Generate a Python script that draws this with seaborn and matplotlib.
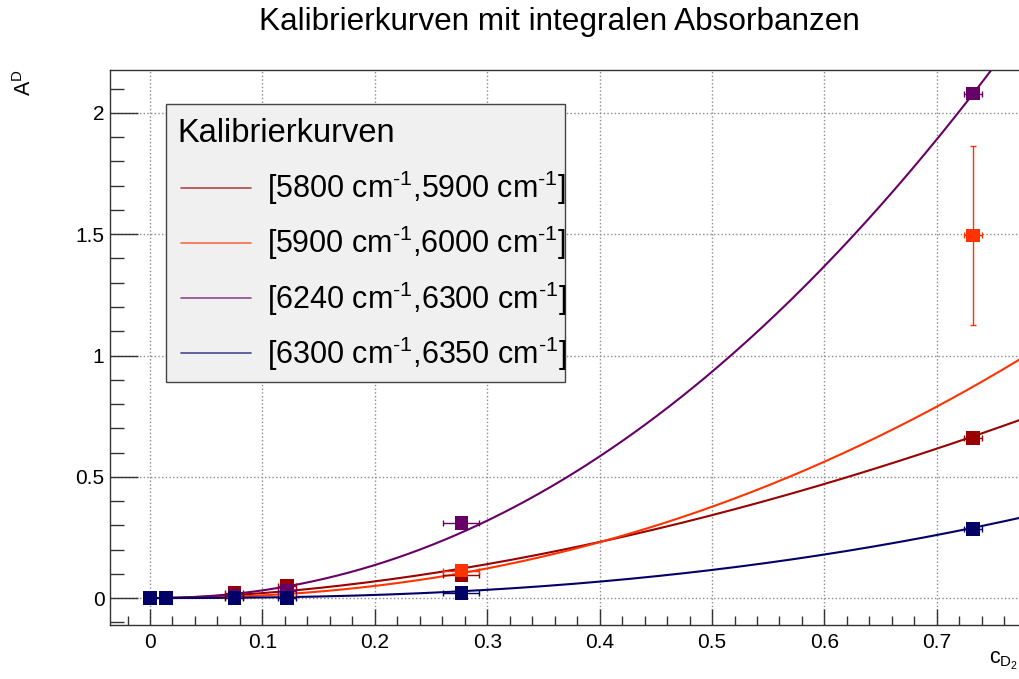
import numpy as np
import pandas as pd
import matplotlib
matplotlib.use("Agg")
import matplotlib.pyplot as plt
import seaborn as sns
from matplotlib.lines import Line2D
from matplotlib.patches import Rectangle
from matplotlib.ticker import MultipleLocator, FuncFormatter

sns.set_theme(style="white")
plt.rcParams["font.family"] = ["Liberation Sans", "DejaVu Sans"]
plt.rcParams["mathtext.fontset"] = "custom"
plt.rcParams["mathtext.rm"] = "Liberation Sans"
plt.rcParams["mathtext.it"] = "Liberation Sans"
plt.rcParams["mathtext.default"] = "regular"
plt.rcParams["text.color"] = "black"
plt.rcParams["xtick.color"] = "black"
plt.rcParams["ytick.color"] = "black"

# ---------------- data ----------------
series_labels = [
    r"[5800 cm$^{\text{-1}}$,5900 cm$^{\text{-1}}$]",
    r"[5900 cm$^{\text{-1}}$,6000 cm$^{\text{-1}}$]",
    r"[6240 cm$^{\text{-1}}$,6300 cm$^{\text{-1}}$]",
    r"[6300 cm$^{\text{-1}}$,6350 cm$^{\text{-1}}$]",
]
series_colors = ["#990000", "#ff3300", "#660066", "#000066"]

conc = [0.0, 0.014, 0.075, 0.122, 0.277, 0.732]
conc_err = [0.0, 0.0, 0.008, 0.008, 0.016, 0.008]

absorb_5800 = [0.0, 0.0, 0.02, 0.05, 0.095, 0.66]
absorb_5900 = [0.0, 0.0, 0.005, 0.01, 0.113, 1.495]
absorb_6240 = [0.0, 0.0, 0.01, 0.03, 0.31, 2.08]
absorb_6300 = [0.0, 0.0, 0.0, 0.0, 0.02, 0.285]

err_5800 = [0.0, 0.0, 0.0, 0.0, 0.0, 0.01]
err_5900 = [0.0, 0.0, 0.0, 0.0, 0.01, 0.37]
err_6240 = [0.0, 0.0, 0.0, 0.0, 0.0, 0.01]
err_6300 = [0.0, 0.0, 0.0, 0.0, 0.0, 0.01]

# power-law fit parameters  A = amp * c^exp
fit_amp = [1.15, 1.73, 4.0, 0.612]
fit_exp = [1.75, 2.2, 2.1, 2.4]

title = "Kalibrierkurven mit integralen Absorbanzen"
legend_title = "Kalibrierkurven"
x_ticks = [0.0, 0.1, 0.2, 0.3, 0.4, 0.5, 0.6, 0.7]
y_ticks = [0.0, 0.5, 1.0, 1.5, 2.0]

absorb = [absorb_5800, absorb_5900, absorb_6240, absorb_6300]
errs = [err_5800, err_5900, err_6240, err_6300]

pts = pd.concat([
    pd.DataFrame({"c": conc, "A": a, "cerr": conc_err, "Aerr": e, "series": lab})
    for a, e, lab in zip(absorb, errs, series_labels)
], ignore_index=True)

cgrid = np.linspace(0.0, 0.79, 300)
curves = pd.concat([
    pd.DataFrame({"c": cgrid, "A": amp * cgrid ** ex, "series": lab})
    for amp, ex, lab in zip(fit_amp, fit_exp, series_labels)
], ignore_index=True)

palette = dict(zip(series_labels, series_colors))

# ---------------- figure ----------------
W, H = 1020, 679
fig = plt.figure(figsize=(10.2, 6.79), dpi=100)
ax = fig.add_axes([110 / W, 1 - 625 / H, 910 / W, 555 / H])

ax.grid(True, which="major", ls=":", color="#8a8a8a", lw=1.0)
ax.set_axisbelow(True)

sns.lineplot(data=curves, x="c", y="A", hue="series", palette=palette,
             lw=1.5, legend=False, ax=ax, sort=False)

for lab, col in zip(series_labels, series_colors):
    d = pts[pts["series"] == lab]
    ax.errorbar(d["c"], d["A"], xerr=d["cerr"], yerr=d["Aerr"], fmt="none",
                ecolor=col, elinewidth=1.0, capsize=2.5, capthick=1.0, zorder=3)
    sns.scatterplot(data=d, x="c", y="A", color=col, marker="s", s=95,
                    edgecolor="none", legend=False, ax=ax, zorder=4)

ax.set_xlim(-0.0356, 0.774)
ax.set_ylim(-0.111, 2.177)
ax.set_xlabel("")
ax.set_ylabel("")

ax.xaxis.set_minor_locator(MultipleLocator(0.02))
ax.yaxis.set_minor_locator(MultipleLocator(0.1))
ax.set_xticks(x_ticks)
ax.set_yticks(y_ticks)
fmt = FuncFormatter(lambda v, p: "%g" % round(v, 3))
ax.xaxis.set_major_formatter(fmt)
ax.yaxis.set_major_formatter(fmt)

ax.tick_params(axis="x", which="major", direction="in", length=11.5, width=1,
               color="#333333", labelsize=15, labelcolor="black", pad=6,
               bottom=True, top=False)
ax.tick_params(axis="x", which="minor", direction="in", length=6.5, width=1,
               color="#333333", bottom=True, top=False)
ax.tick_params(axis="y", which="major", direction="in", length=20, width=1,
               color="#333333", labelsize=15, labelcolor="black", pad=4,
               left=True, right=False)
ax.tick_params(axis="y", which="minor", direction="in", length=10, width=1,
               color="#333333", left=True, right=False)

for s in ax.spines.values():
    s.set_color("#333333")
    s.set_linewidth(1.0)
    s.set_visible(True)

# legend box (ROOT-like TLegend)
box = Rectangle((166 / W, 1 - 382 / H), (565 - 166) / W, (382 - 104) / H,
                transform=fig.transFigure, facecolor="#f0f0f0",
                edgecolor="#444444", lw=1.0, zorder=10)
fig.add_artist(box)

handles = [Line2D([0], [0], color=c, lw=1.2, alpha=0.7) for c in series_colors]
leg = fig.legend(handles, series_labels, loc="upper left",
                 bbox_to_anchor=(181 / W, 1 - 169 / H),
                 bbox_transform=fig.transFigure,
                 borderaxespad=0, borderpad=0, fontsize=22, frameon=False,
                 handlelength=2.3, handletextpad=0.5, labelspacing=0.55)
leg.set_zorder(11)
for t in leg.get_texts():
    t.set_color("black")

fig.text(177 / W, 1 - 133 / H, legend_title, ha="left", va="center",
         fontsize=23.5, color="black", zorder=11)

fig.text(0.548, 1 - 22 / H, title, ha="center", va="center", fontsize=22.7,
         color="black")
fig.text(25 / W, 1 - 69 / H, "A$^{D}$", rotation=90, ha="center",
         va="top", fontsize=15.5, color="black")
fig.text(1018 / W, 1 - 650 / H, "c$_{D_{2}}$", ha="right", va="top",
         fontsize=15.5, color="black")

fig.savefig("out.png", dpi=100)
